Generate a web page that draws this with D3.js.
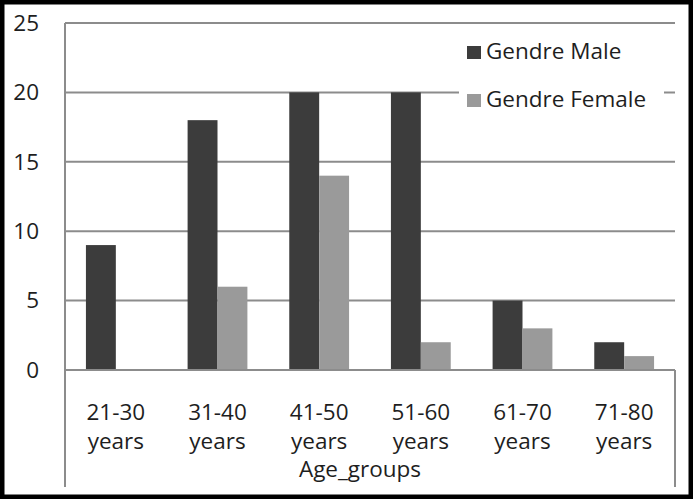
<!DOCTYPE html>
<html>
<head>
<meta charset="utf-8">
<script src="https://cdn.jsdelivr.net/npm/d3@7"></script>
<style>
  html, body { margin: 0; padding: 0; background: #fff; }
  svg { display: block; }
  text { font-family: "Open Sans", sans-serif; fill: #1e1e1e; }
</style>
</head>
<body>
<svg id="chart" width="693" height="499"></svg>
<script>
const categories = ["21-30 years", "31-40 years", "41-50 years", "51-60 years", "61-70 years", "71-80 years"];
const seriesNames = ["Gendre Male", "Gendre Female"];
const maleValues = [9, 18, 20, 20, 5, 2];
const femaleValues = [0, 6, 14, 2, 3, 1];
const yTicks = [0, 5, 10, 15, 20, 25];
const xTitle = "Age_groups";

(function () {
const colors = { "Gendre Male": "#3c3c3c", "Gendre Female": "#9a9a9a" };
const W = 693, H = 499;
const pLeft = 65, pRight = 675, pTop = 23, pBottom = 370;
const fs = 22.5;

const svg = d3.select("#chart");

svg.append("rect").attr("x", 0).attr("y", 0).attr("width", W).attr("height", H).attr("fill", "#fff");

const x = d3.scaleBand().domain(categories).range([pLeft, pRight]).paddingInner(0).paddingOuter(0);
const xs = d3.scaleBand().domain(seriesNames).range([0, x.bandwidth()]).paddingInner(0).paddingOuter(0.7);
const y = d3.scaleLinear().domain([0, 25]).range([pBottom, pTop]);

// gridlines
const grid = svg.append("g");
grid.selectAll("line").data(yTicks.filter(t => t > 0)).enter().append("line")
  .attr("x1", pLeft).attr("x2", pRight)
  .attr("y1", d => y(d)).attr("y2", d => y(d))
  .attr("stroke", "#8c8c8c").attr("stroke-width", 2);

// y axis
const yAxis = d3.axisLeft(y).tickValues(yTicks).tickSize(0).tickPadding(26);
const yg = svg.append("g").attr("transform", `translate(${pLeft},0)`).call(yAxis);
yg.select(".domain").remove();
yg.selectAll("text").attr("font-size", fs).attr("font-family", "'Open Sans', sans-serif").attr("fill", "#1e1e1e");

// bars
const rows = categories.map((c, i) => ({ cat: c, values: [
  { name: seriesNames[0], v: maleValues[i] },
  { name: seriesNames[1], v: femaleValues[i] }
]}));
const groups = svg.append("g").selectAll("g").data(rows).enter().append("g")
  .attr("transform", d => `translate(${x(d.cat)},0)`);
groups.selectAll("rect").data(d => d.values).enter().append("rect")
  .attr("x", d => xs(d.name))
  .attr("width", xs.bandwidth())
  .attr("y", d => y(d.v))
  .attr("height", d => y(0) - y(d.v))
  .attr("fill", d => colors[d.name]);

// axis lines
svg.append("line").attr("x1", pLeft).attr("x2", pLeft).attr("y1", pTop).attr("y2", 487)
  .attr("stroke", "#8c8c8c").attr("stroke-width", 2);
svg.append("line").attr("x1", pLeft).attr("x2", pRight).attr("y1", y(0)).attr("y2", y(0))
  .attr("stroke", "#8c8c8c").attr("stroke-width", 2);
svg.append("line").attr("x1", pRight).attr("x2", pRight).attr("y1", y(0)).attr("y2", 487)
  .attr("stroke", "#8c8c8c").attr("stroke-width", 2);

// x labels
const xl = svg.append("g").selectAll("text").data(categories).enter().append("text")
  .attr("x", d => x(d) + x.bandwidth() / 2)
  .attr("text-anchor", "middle")
  .attr("font-size", fs);
xl.append("tspan").attr("x", d => x(d) + x.bandwidth() / 2).attr("y", 420).text(d => d.split(" ")[0]);
xl.append("tspan").attr("x", d => x(d) + x.bandwidth() / 2).attr("y", 449).text(d => d.split(" ")[1]);

svg.append("text").attr("x", 360).attr("y", 477).attr("text-anchor", "middle")
  .attr("font-size", fs).text(xTitle);

// legend
const lg = svg.append("g");
lg.append("rect").attr("x", 459).attr("y", 35).attr("width", 205).attr("height", 82).attr("fill", "#fff");
const li = lg.selectAll("g").data(seriesNames).enter().append("g")
  .attr("transform", (d, i) => `translate(467,${59 + i * 48})`);
li.append("rect").attr("x", 0).attr("y", -13).attr("width", 14).attr("height", 13)
  .attr("fill", d => colors[d]);
li.append("text").attr("x", 19).attr("y", 0).attr("font-size", fs).text(d => d);

// outer black frame
svg.append("rect").attr("x", 2).attr("y", 2).attr("width", W - 4).attr("height", H - 4)
  .attr("fill", "none").attr("stroke", "#000").attr("stroke-width", 5);
})();
</script>
</body>
</html>
